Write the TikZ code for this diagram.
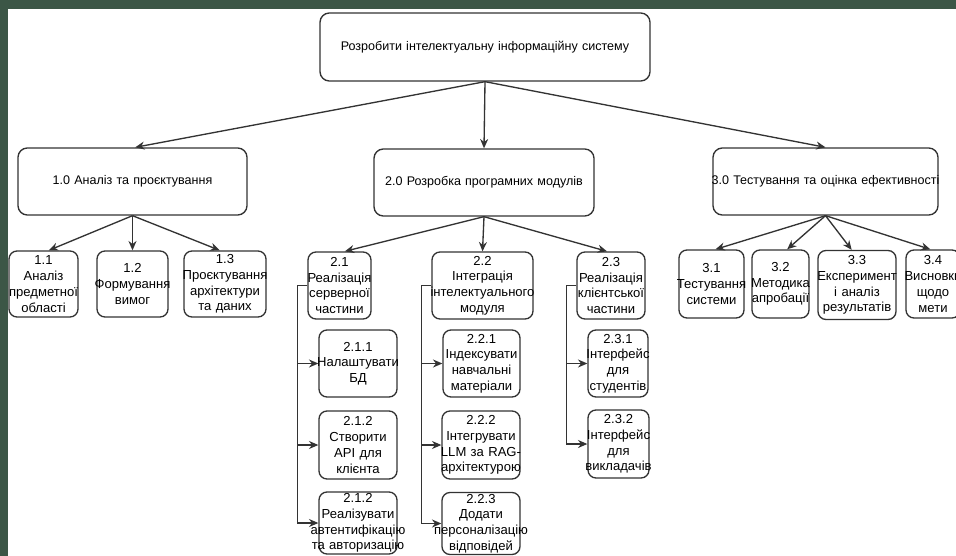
\documentclass[tikz,border=0pt]{standalone}
\usepackage{fontspec}
\setmainfont{Liberation Sans}
\usetikzlibrary{arrows.meta}
\definecolor{slate}{HTML}{3C5646}
\definecolor{edge}{HTML}{333333}
% one centred line that may spill evenly past both sides of its box
\newcommand\ctr[1]{\makebox[\linewidth]{#1}}

\begin{document}
\begin{tikzpicture}[x=0.75pt,y=-0.75pt,
  sz/.code 2 args={%
    \pgfmathsetlengthmacro\bw{#1*0.75pt}%
    \pgfmathsetlengthmacro\bh{#2*0.75pt}%
    \edef\tmp{\noexpand\tikzset{minimum width=\bw,minimum height=\bh,text width=\bw}}\tmp},
  box/.style={draw=edge, line width=1pt, fill=white, align=center,
    inner sep=0pt, text=black},
  top/.style={box, rounded corners=7pt, font=\fontsize{9.4}{11.4}\selectfont},
  leaf/.style={box, rounded corners=6pt, font=\fontsize{9.8}{11.8}\selectfont},
  link/.style={draw=edge, line width=1pt, -{Stealth[length=7pt,width=6pt]}},
]
\useasboundingbox (0,0) rectangle (956,556);
\clip (0,0) rectangle (956,556);
\fill[slate] (0,0) rectangle (956,556);
\fill[white] (8,9) rectangle (960,560);

% goal
\node[top, sz={330}{68}] (root) at (485,47) {\ctr{Розробити інтелектуальну інформаційну систему}};

% stages
\node[top, sz={229}{67}] (n10) at (132.5,181.5) {\ctr{1.0 Аналіз та проєктування}};
\node[top, sz={220}{67}] (n20) at (484,182.5) {\ctr{2.0 Розробка програмних модулів}};
\node[top, sz={225}{67}] (n30) at (825.5,181.5) {\ctr{3.0 Тестування та оцінка ефективності}};

% stage 1 tasks
\node[leaf, sz={69}{66}] (n11) at (43.5,284) {\ctr{1.1}\\\ctr{Аналіз}\\\ctr{предметної}\\\ctr{області}};
\node[leaf, sz={71}{66}] (n12) at (132.5,284) {\ctr{1.2}\\\ctr{Формування}\\\ctr{вимог}};
\node[leaf, sz={82}{66}] (n13) at (225,284) {\ctr{1.3}\\\ctr{Проєктування}\\\ctr{архітектури}\\\ctr{та даних}};

% stage 2 tasks
\node[leaf, sz={63}{67}] (n21) at (339.5,285.5) {\ctr{2.1}\\\ctr{Реалізація}\\\ctr{серверної}\\\ctr{частини}};
\node[leaf, sz={101}{67}] (n22) at (482.5,285.5) {\ctr{2.2}\\\ctr{Інтеграція}\\\ctr{інтелектуального}\\\ctr{модуля}};
\node[leaf, sz={68}{67}] (n23) at (611,285.5) {\ctr{2.3}\\\ctr{Реалізація}\\\ctr{клієнтської}\\\ctr{частини}};

\node[leaf, sz={78}{67}] (n211) at (358,363.5) {\ctr{2.1.1}\\\ctr{Налаштувати}\\\ctr{БД}};
\node[leaf, sz={78}{68}] (n212) at (358,445) {\ctr{2.1.2}\\\ctr{Створити}\\\ctr{API для}\\\ctr{клієнта}};
\node[leaf, sz={78}{62}] (n213) at (358,523) {\ctr{2.1.2}\\\ctr{Реалізувати}\\\ctr{автентифікацію}\\\ctr{та авторизацію}};

\node[leaf, sz={77}{67}] (n221) at (481.5,363.5) {\ctr{2.2.1}\\\ctr{Індексувати}\\\ctr{навчальні}\\\ctr{матеріали}};
\node[leaf, sz={78}{68}] (n222) at (481,445) {\ctr{2.2.2}\\\ctr{Інтегрувати}\\\ctr{LLM за RAG-}\\\ctr{архітектурою}};
\node[leaf, sz={78}{62}] (n223) at (481,523.5) {\ctr{2.2.3}\\\ctr{Додати}\\\ctr{персоналізацію}\\\ctr{відповідей}};

\node[leaf, sz={60}{67}] (n231) at (618,363.5) {\ctr{2.3.1}\\\ctr{Інтерфейс}\\\ctr{для}\\\ctr{студентів}};
\node[leaf, sz={61}{68}] (n232) at (618.5,444) {\ctr{2.3.2}\\\ctr{Інтерфейс}\\\ctr{для}\\\ctr{викладачів}};

% stage 3 tasks
\node[leaf, sz={65}{68}] (n31) at (711.5,284) {\ctr{3.1}\\\ctr{Тестування}\\\ctr{системи}};
\node[leaf, sz={57}{68}] (n32) at (780.5,284) {\ctr{3.2}\\\ctr{Методика}\\\ctr{апробації}};
\node[leaf, sz={78}{69}] (n33) at (857,285) {\ctr{3.3}\\\ctr{Експеримент}\\\ctr{і аналіз}\\\ctr{результатів}};
\node[leaf, sz={54}{68}] (n34) at (933,284) {\ctr{3.4}\\\ctr{Висновки}\\\ctr{щодо}\\\ctr{мети}};

% goal to stages
\draw[link] (root.south) -- ([xshift=2pt]n10.north);
\draw[link] (root.south) -- (n20.north);
\draw[link] (root.south) -- (n30.north);

% stages to tasks
\draw[link] (n10.south) -- ([xshift=4pt]n11.north);
\draw[link] (n10.south) -- (n12.north);
\draw[link] (n10.south) -- ([xshift=-4pt]n13.north);

\draw[link] (n20.south) -- ([xshift=4pt]n21.north);
\draw[link] (n20.south) -- (n22.north);
\draw[link] (n20.south) -- ([xshift=-3pt]n23.north);

\draw[link] (n30.south) -- ([xshift=3pt]n31.north);
\draw[link] (n30.south) -- ([xshift=5pt]n32.north);
\draw[link] (n30.south) -- ([xshift=-4pt]n33.north);
\draw[link] (n30.south) -- ([xshift=-2pt]n34.north);

% subtasks hang off a spine to the left of each task
\foreach \p/\c in {n21/n211, n21/n212, n21/n213, n22/n221, n22/n222, n22/n223, n23/n231, n23/n232}
  \draw[link] (\p.west) -- ++(-10,0) |- (\c.west);
\end{tikzpicture}
\end{document}
